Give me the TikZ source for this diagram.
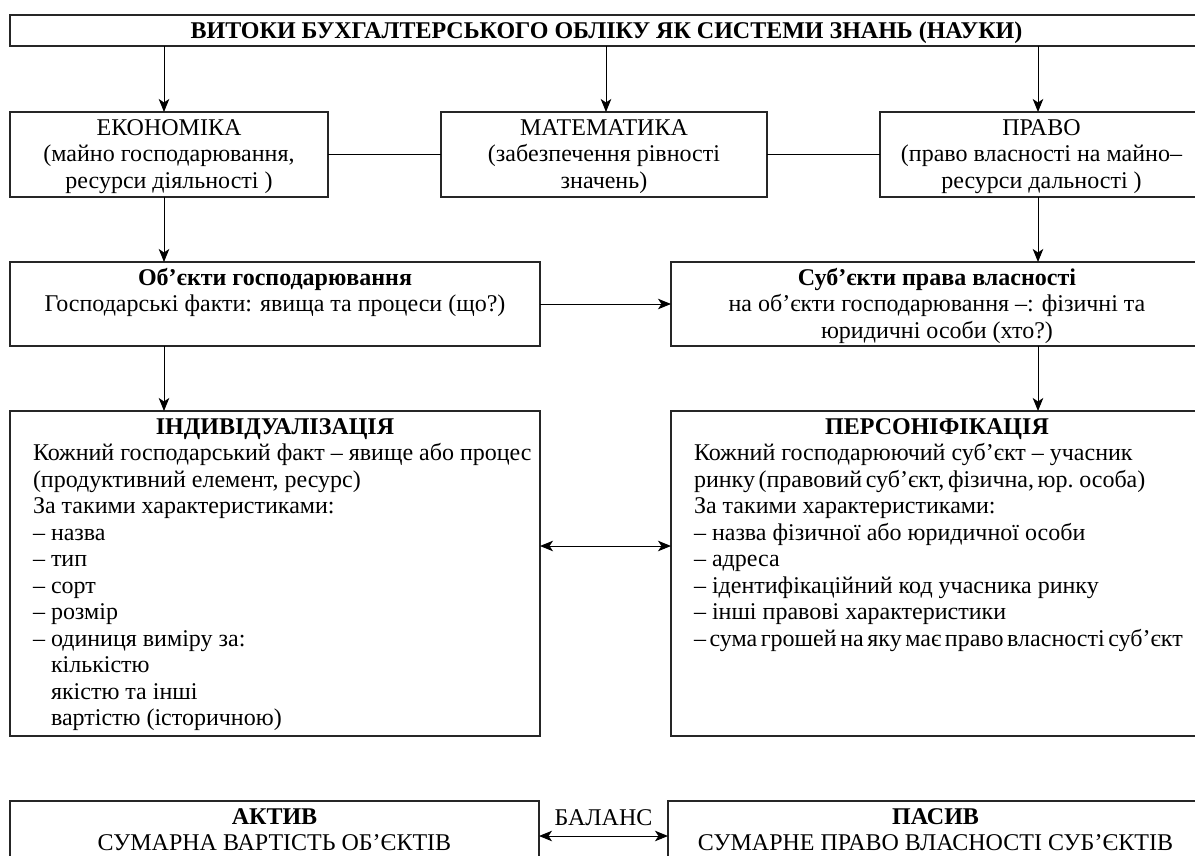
\documentclass[tikz,border=0pt]{standalone}
\usepackage{fontspec}
\setmainfont{Liberation Serif}
\usetikzlibrary{arrows.meta}
% frame body: fixed-size box, text set from the top
\newcommand{\boxbody}[3]{\parbox[c][#2][t]{#1}{\vspace*{4.8pt}#3}}
% a line set with narrower word spaces
\newcommand{\narrowline}[1]{{\spaceskip=3.6pt plus 1pt minus 0.5pt #1}}

\begin{document}
\begin{tikzpicture}[x=1pt,y=-1pt,
  font=\fontsize{24}{26.5}\selectfont,
  frame/.style={draw=black!85, line width=1.1pt, inner sep=0pt, outer sep=0pt, anchor=north west},
  link/.style={draw=black, line width=1pt},
  tip/.tip={Stealth[length=13pt,width=10.5pt,inset=3.5pt]},
  arr/.style={link, -tip},
  twoway/.style={link, tip-tip},
]
\useasboundingbox (0,0) rectangle (1195,855);
\clip (0,0) rectangle (1195,855);

% heading
\node[frame, minimum width=1193pt, minimum height=31pt, text height=16pt, text depth=0pt,
      font=\fontsize{24}{26.5}\selectfont\bfseries] (title) at (10,15)
  {ВИТОКИ БУХГАЛТЕРСЬКОГО ОБЛІКУ ЯК СИСТЕМИ ЗНАНЬ (НАУКИ)};

% sources
\node[frame] (eco) at (10,112) {\boxbody{318pt}{85pt}{\centering\strut ЕКОНОМІКА\\(майно господарювання,\\ресурси діяльності )}};
\node[frame] (math) at (441,112) {\boxbody{326pt}{85pt}{\centering\strut МАТЕМАТИКА\\(забезпечення рівності\\значень)}};
\node[frame] (law) at (880,112) {\boxbody{323pt}{85pt}{\centering\strut ПРАВО\\(право власності на майно–\\ресурси дальності )}};

% objects and subjects
\node[frame] (obj) at (10,262) {\boxbody{530pt}{84pt}{\centering\strut\textbf{Об’єкти господарювання}\\Господарські факти: явища та процеси (що?)}};
\node[frame] (subj) at (671,262) {\boxbody{532pt}{84pt}{\centering\strut\textbf{Суб’єкти права власності}\\на об’єкти господарювання –: фізичні та\\юридичні особи (хто?)}};

% individualisation and personification
\node[frame] (ind) at (10,411) {\boxbody{530pt}{325pt}{\centering\strut\textbf{ІНДИВІДУАЛІЗАЦІЯ}\par
  \raggedright\leftskip=23pt\rightskip=-30pt plus 1fil
  Кожний господарський факт – явище або процес\\
  (продуктивний елемент, ресурс)\\
  За такими характеристиками:\\
  – назва\\
  – тип\\
  – сорт\\
  – розмір\\
  – одиниця виміру за:\\
  \hphantom{– }кількістю\\
  \hphantom{– }якістю та інші\\
  \hphantom{– }вартістю (історичною)}};
\node[frame] (pers) at (671,411) {\boxbody{532pt}{325pt}{\centering\strut\textbf{ПЕРСОНІФІКАЦІЯ}\par
  \raggedright\leftskip=23pt\rightskip=-30pt plus 1fil
  Кожний господарюючий суб’єкт – учасник\\
  \narrowline{ринку (правовий суб’єкт, фізична, юр. особа)}\\
  За такими характеристиками:\\
  – назва фізичної або юридичної особи\\
  – адреса\\
  – ідентифікаційний код учасника ринку\\
  – інші правові характеристики\\
  \narrowline{– сума грошей на яку має право власності суб’єкт}}};

% balance
\node[frame] (act) at (10,801) {\boxbody{529pt}{70pt}{\centering\strut\textbf{АКТИВ}\\СУМАРНА ВАРТІСТЬ ОБ’ЄКТІВ}};
\node[frame] (pas) at (668,801) {\boxbody{535pt}{70pt}{\centering\strut\textbf{ПАСИВ}\\СУМАРНЕ ПРАВО ВЛАСНОСТІ СУБ’ЄКТІВ}};

% connectors
\draw[arr] ([xshift=-5pt]eco.north |- title.south) -- ([xshift=-5pt]eco.north);
\draw[arr] ([xshift=2pt]math.north |- title.south) -- ([xshift=2pt]math.north);
\draw[arr] ([xshift=-3.5pt]law.north |- title.south) -- ([xshift=-3.5pt]law.north);
\draw[link] (eco.east) -- (math.west);
\draw[link] (math.east) -- (law.west);
\draw[arr] ([xshift=-5pt]eco.south) -- ([xshift=-5pt]eco.south |- obj.north);
\draw[arr] ([xshift=-3.5pt]law.south) -- ([xshift=-3.5pt]law.south |- subj.north);
\draw[arr] (obj.east) -- (subj.west);
\draw[arr] ([xshift=-5pt]eco.south |- obj.south) -- ([xshift=-5pt]eco.south |- ind.north);
\draw[arr] ([xshift=-3.5pt]law.south |- subj.south) -- ([xshift=-3.5pt]law.south |- pers.north);
\draw[twoway] ([yshift=27.5pt]ind.east) -- ([yshift=27.5pt]pers.west);
\draw[twoway] (act.east) -- node[anchor=base, yshift=11pt] (bal) {БАЛАНС} (pas.west);
\end{tikzpicture}
\end{document}
